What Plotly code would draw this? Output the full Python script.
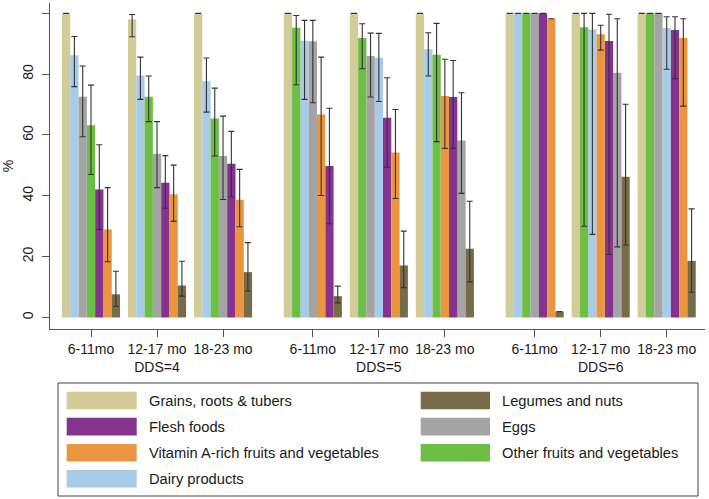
import plotly.graph_objects as go

# groups: DDS=4, DDS=5, DDS=6 x three age bands
ages = ['6-11mo', '12-17 mo', '18-23 mo']
dds = ['DDS=4', 'DDS=5', 'DDS=6']

# base order is only used to break ties when sorting bars within a group
foods = ['Grains, roots & tubers', 'Dairy products', 'Other fruits and vegetables',
         'Eggs', 'Flesh foods', 'Vitamin A-rich fruits and vegetables', 'Legumes and nuts']
colors = ['#D2CC98', '#A8CBEA', '#6CBE45', '#A4A4A4', '#85338F', '#E9963F', '#786B4A']

grains = [100, 98.0, 100, 100, 100, 100, 100, 100, 100]
grains_hi = [None, 99.6, None, None, None, None, None, None, None]
grains_lo = [None, 92.3, None, None, None, None, None, None, None]

dairy = [86.2, 79.6, 77.7, 91.0, 85.4, 88.2, 100, 94.7, 95.2]
dairy_hi = [92.4, 85.6, 85.3, 97.7, 93.4, 93.6, None, 100, 98.9]
dairy_lo = [75.9, 71.7, 67.5, 71.7, 71.0, 79.4, None, 27.3, 81.6]

other_fv = [63.2, 72.6, 65.4, 95.3, 91.9, 86.4, 100, 95.4, 100]
other_fv_hi = [76.4, 79.4, 75.4, 99.3, 96.6, 96.7, None, 100, None]
other_fv_lo = [47.0, 64.4, 53.1, 76.5, 81.8, 57.8, None, 30.0, None]

eggs = [72.6, 53.8, 53.1, 90.8, 86.0, 58.2, 100, 80.5, 100]
eggs_hi = [82.7, 64.4, 66.2, 97.7, 93.5, 73.9, None, 98.2, None]
eggs_lo = [59.4, 42.7, 38.8, 70.6, 72.5, 40.8, None, 23.2, None]

flesh = [42.1, 44.3, 50.5, 49.8, 65.7, 72.5, 100, 90.9, 94.5]
flesh_hi = [56.8, 53.2, 61.2, 68.8, 78.8, 84.5, None, 99.7, 98.9]
flesh_lo = [28.9, 35.9, 39.7, 30.8, 49.4, 55.6, None, 20.7, 78.5]

vita = [28.9, 40.5, 38.7, 66.7, 54.2, 72.8, 98.2, 93.1, 91.9]
vita_hi = [42.7, 50.1, 48.7, 85.6, 68.4, 84.9, None, 96.1, 98.2]
vita_lo = [18.3, 31.6, 29.8, 40.1, 39.1, 55.6, None, 87.9, 69.5]

legumes = [7.6, 10.5, 14.9, 7.0, 17.1, 22.6, 1.9, 46.3, 18.6]
legumes_hi = [15.2, 18.5, 24.6, 10.3, 28.4, 38.2, None, 70.1, 35.7]
legumes_lo = [3.7, 7.0, 8.7, 4.8, 9.8, 11.7, None, 23.8, 8.3]

values = [grains, dairy, other_fv, eggs, flesh, vita, legumes]
highs = [grains_hi, dairy_hi, other_fv_hi, eggs_hi, flesh_hi, vita_hi, legumes_hi]
lows = [grains_lo, dairy_lo, other_fv_lo, eggs_lo, flesh_lo, vita_lo, legumes_lo]

# legend layout (two columns, like the original)
legend_cols = [['Grains, roots & tubers', 'Flesh foods',
                'Vitamin A-rich fruits and vegetables', 'Dairy products'],
               ['Legumes and nuts', 'Eggs', 'Other fruits and vegetables']]

BLOCK = 3.36
bw = 0.1257
n = len(foods)
centers = [b * BLOCK + a for b in range(len(dds)) for a in range(len(ages))]
ngroups = len(centers)

# rank of each food inside each group (bars sorted high to low)
ranks = [[0] * ngroups for _ in foods]
for g in range(ngroups):
    order = sorted(range(n), key=lambda k: (-values[k][g], k))
    for r, k in enumerate(order):
        ranks[k][g] = r

fig = go.Figure()
for k, name in enumerate(foods):
    up = [None if h is None else h - v for h, v in zip(highs[k], values[k])]
    dn = [None if l is None else v - l for l, v in zip(lows[k], values[k])]
    fig.add_trace(go.Bar(
        x=centers,
        y=values[k],
        name=name,
        width=bw,
        offset=[-n * bw / 2 + r * bw for r in ranks[k]],
        marker=dict(color=colors[k], line=dict(width=0)),
        error_y=dict(type='data', symmetric=False, array=up, arrayminus=dn,
                     color='#333333', thickness=1.1, width=3),
        showlegend=False,
    ))

ticktext = []
for b in range(len(dds)):
    for a, lab in enumerate(ages):
        ticktext.append(lab + '<br>' + dds[b] if a == 1 else lab)

# custom legend box with large swatches (pixel -> paper helpers)
L, R, T, B = 50, 4, 3, 170
W, H = 709, 499
pw, ph = W - L - R, H - T - B


def px(x):
    return (x - L) / pw


def py(y):
    return (H - B - y) / ph


shapes = [dict(type='rect', xref='paper', yref='paper',
               x0=px(58), x1=px(698), y0=py(383), y1=py(496),
               line=dict(color='#444444', width=1), fillcolor='white')]
annotations = []
sw_x = [(66.7, 136.7), (420.7, 490.0)]
txt_x = [148.5, 502.0]
for c, col in enumerate(legend_cols):
    for r, name in enumerate(col):
        top = 391.7 + r * 26.1
        shapes.append(dict(type='rect', xref='paper', yref='paper',
                           x0=px(sw_x[c][0]), x1=px(sw_x[c][1]),
                           y0=py(top), y1=py(top + 17.6),
                           line=dict(width=0), fillcolor=colors[foods.index(name)]))
        annotations.append(dict(x=px(txt_x[c]), y=py(top + 8.8), xref='paper', yref='paper',
                                text=name, showarrow=False, xanchor='left', yanchor='middle',
                                xshift=-2, font=dict(size=14.7, color='#1a1a1a')))

fig.update_layout(
    width=W, height=H,
    margin=dict(l=L, r=R, t=T, b=B, autoexpand=False),
    plot_bgcolor='white', paper_bgcolor='white',
    font=dict(family='Liberation Sans, Arial, sans-serif', size=14, color='#1a1a1a'),
    barmode='overlay',
    shapes=shapes,
    annotations=annotations,
    xaxis=dict(range=[-0.621, 9.30], tickvals=centers, ticktext=ticktext,
               showline=True, linecolor='#555555', linewidth=1,
               ticks='outside', ticklen=7, tickcolor='#555555',
               showgrid=False, zeroline=False, tickfont=dict(size=14),
               automargin=False),
    yaxis=dict(range=[-3.8, 103.4], tickvals=[0, 20, 40, 60, 80, 100],
               showline=True, linecolor='#555555', linewidth=1,
               ticks='outside', ticklen=7, tickcolor='#555555',
               tickangle=-90, showgrid=False, zeroline=False,
               tickfont=dict(size=14), ticklabelstandoff=3,
               title=dict(text='%', font=dict(size=14), standoff=12),
               automargin=False),
)

# page body has a default 8px margin; drop it so the figure sits at 0,0
fig.write_html('out.html', config={'displayModeBar': False},
               post_script="document.body.style.margin='0';")
